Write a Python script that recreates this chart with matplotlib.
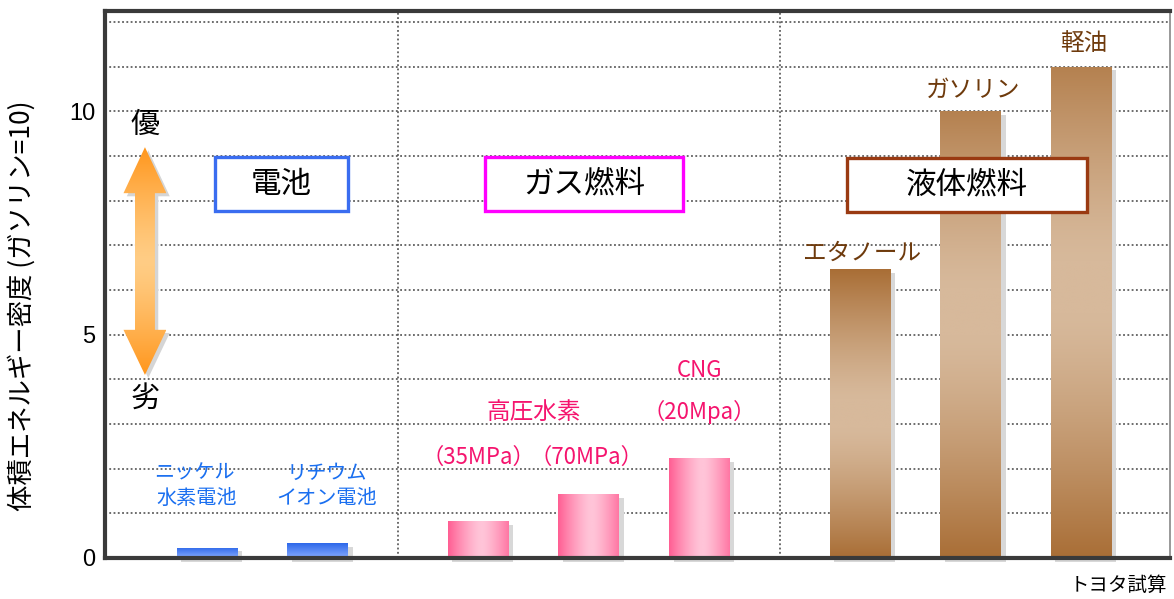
import numpy as np
import matplotlib.pyplot as plt
from matplotlib.patches import Rectangle, Polygon
from matplotlib.colors import to_rgb

plt.rcParams['font.family'] = ['Noto Sans CJK JP', 'DejaVu Sans']

# 体積エネルギー密度（ガソリン=10）
groups = ['電池', 'ガス燃料', '液体燃料']
group_sizes = [2, 3, 3]
names = ['ニッケル水素電池', 'リチウムイオン電池', '高圧水素35MPa', '高圧水素70MPa',
         'CNG', 'エタノール', 'ガソリン', '軽油']
density = [0.23, 0.33, 0.83, 1.43, 2.24, 6.47, 10.0, 11.0]
yticks = [0, 5, 10]

blue_txt = '#1a6ff0'
pink_txt = '#f5146e'
brown_txt = '#6e3a0c'

# x positions: one unit per bar, extra gap between groups
gap = 0.45
xs = []
pos = 0.0
for n in group_sizes:
    for k in range(n):
        xs.append(pos)
        pos += 1
    pos += gap
xs = np.array(xs)
width = 0.55


def blend(c1, c2, w):
    c1 = np.array(to_rgb(c1))
    c2 = np.array(to_rgb(c2))
    return c1[None, :] * (1 - w[:, None]) + c2[None, :] * w[:, None]


def profile(n, peak=0.5, flat=0.0):
    t = np.linspace(0, 1, n)
    d = np.abs(t - peak) / max(peak, 1 - peak)
    d = np.clip((d - flat) / (1 - flat), 0, 1)
    return 1 - d ** 1.3


fig = plt.figure(figsize=(11.74, 5.99), dpi=100)
ax = fig.add_axes([105 / 1174, 41 / 599, 1065 / 1174, 547 / 599])

ax.set_xlim(-0.921, 8.70)
ax.set_ylim(0, 12.25)

# dotted grid
for yv in range(1, 13):
    ax.axhline(yv, color='#444444', lw=1.1, ls=(0, (1.2, 1.6)), zorder=1)
bounds = np.cumsum(group_sizes)[:-1]
for b in bounds:
    ax.axvline((xs[b - 1] + xs[b]) / 2, color='#444444', lw=1.1,
               ls=(0, (1.2, 1.6)), zorder=1)

# bars with gradient fill and drop shadow
bars = ax.bar(xs, density, width=width, color='none', edgecolor='none', zorder=4)
for i, (bar, v) in enumerate(zip(bars, density)):
    x0 = bar.get_x()
    ax.add_patch(Rectangle((x0 + 0.04, -0.08), width, v, facecolor='#d8d8d8',
                           edgecolor='none', zorder=2, clip_on=False))
    if i < 2:
        img = blend('#2d68ea', '#86aaff', np.linspace(1, 0, 64))[:, None, :]
    elif i < 5:
        w = profile(128, peak=0.55, flat=0.05)
        img = blend('#ff5e93', '#ffc4d8', w)[None, :, :]
    else:
        w = profile(256, peak=0.5 if i == 5 else 0.55, flat=0.1)
        img = blend('#a96e36', '#d7b99b', w)[:, None, :]
    im = ax.imshow(img, extent=[x0, x0 + width, 0, v], origin='lower',
                   aspect='auto', interpolation='bilinear', zorder=3)
    im.set_clip_path(bar)

# bar labels
fs_b = 14.5
ax.text(xs[0] - 0.11, 1.90, 'ニッケル', color=blue_txt, fontsize=fs_b, ha='center', va='center', zorder=6)
ax.text(xs[0] - 0.09, 1.34, '水素電池', color=blue_txt, fontsize=fs_b, ha='center', va='center', zorder=6)
ax.text(xs[1] + 0.08, 1.90, 'リチウム', color=blue_txt, fontsize=fs_b, ha='center', va='center', zorder=6)
ax.text(xs[1] + 0.08, 1.34, 'イオン電池', color=blue_txt, fontsize=fs_b, ha='center', va='center', zorder=6)

fs_p = 16
ax.text((xs[2] + xs[3]) / 2 + 0.0, 3.25, '高圧水素', color=pink_txt, fontsize=17, ha='center', va='center', zorder=6)
ax.text(xs[2], 2.26, '（35MPa）', color=pink_txt, fontsize=fs_p, ha='center', va='center', zorder=6)
ax.text(xs[3] - 0.02, 2.26, '（70MPa）', color=pink_txt, fontsize=fs_p, ha='center', va='center', zorder=6)
ax.text(xs[4], 4.21, 'CNG', color=pink_txt, fontsize=fs_p, ha='center', va='center', zorder=6)
ax.text(xs[4], 3.27, '（20Mpa）', color=pink_txt, fontsize=fs_p, ha='center', va='center', zorder=6)

for i, off in zip([5, 6, 7], [0.36, 0.48, 0.53]):
    ax.text(xs[i] + 0.02, density[i] + off, names[i], color=brown_txt, fontsize=17,
            ha='center', va='center', zorder=6)

# group boxes
box_specs = [(groups[0], 0.072, 1.274, 7.77, 8.98, '#3a6df0'),
             (groups[1], 2.51, 4.30, 7.77, 8.98, '#ff00ff'),
             (groups[2], 5.78, 7.95, 7.75, 8.96, '#9a3a12')]
for label, xa, xb, ya, yb, ec in box_specs:
    ax.add_patch(Rectangle((xa, ya), xb - xa, yb - ya, facecolor='white',
                           edgecolor=ec, lw=2.4, zorder=7))
    ax.text((xa + xb) / 2, (ya + yb) / 2, label, fontsize=22, ha='center',
            va='center', color='black', zorder=8)

# double arrow 優 / 劣
cx, hw, sw = -0.56, 0.194, 0.09
y_top, y_hb, y_bb, y_bot = 9.20, 8.17, 5.11, 4.10
pts = [(cx, y_top), (cx + hw, y_hb), (cx + sw, y_hb), (cx + sw, y_bb),
       (cx + hw, y_bb), (cx, y_bot), (cx - hw, y_bb), (cx - sw, y_bb),
       (cx - sw, y_hb), (cx - hw, y_hb)]
shadow = Polygon([(px + 0.03, py - 0.07) for px, py in pts], closed=True,
                 facecolor='#d5d5d5', edgecolor='none', zorder=4)
ax.add_patch(shadow)
arrow = Polygon(pts, closed=True, facecolor='none', edgecolor='none', zorder=5)
ax.add_patch(arrow)
img = blend('#ff961c', '#ffcd85', profile(256, 0.5, 0.0))[:, None, :]
im = ax.imshow(img, extent=[cx - hw, cx + hw, y_bot, y_top], origin='lower',
               aspect='auto', interpolation='bilinear', zorder=5)
im.set_clip_path(arrow)
ax.text(cx, 9.70, '優', fontsize=21, ha='center', va='center', zorder=6)
ax.text(cx, 3.54, '劣', fontsize=21, ha='center', va='center', zorder=6)

ax.set_xlim(-0.921, 8.70)
ax.set_ylim(0, 12.25)

# axes frame
for side in ['left', 'bottom', 'top']:
    ax.spines[side].set_linewidth(3)
    ax.spines[side].set_color('#3a3a3a')
ax.spines['right'].set_linewidth(1.2)
ax.spines['right'].set_color('#888888')
for s in ax.spines.values():
    s.set_zorder(9)

ax.set_xticks([])
ax.set_yticks(yticks)
ax.set_yticklabels([str(t) for t in yticks], family=['Liberation Sans', 'DejaVu Sans'],
                   fontsize=17)
ax.tick_params(axis='y', length=0, pad=7)

fig.text(22 / 1174, 1 - 306 / 599, '体積エネルギー密度 (ガソリン=10)', rotation=90,
         fontsize=19, ha='center', va='center')
fig.text(1118 / 1174, 1 - 585 / 599, 'トヨタ試算', fontsize=14, ha='center', va='center')

fig.savefig('out.png', dpi=100)
